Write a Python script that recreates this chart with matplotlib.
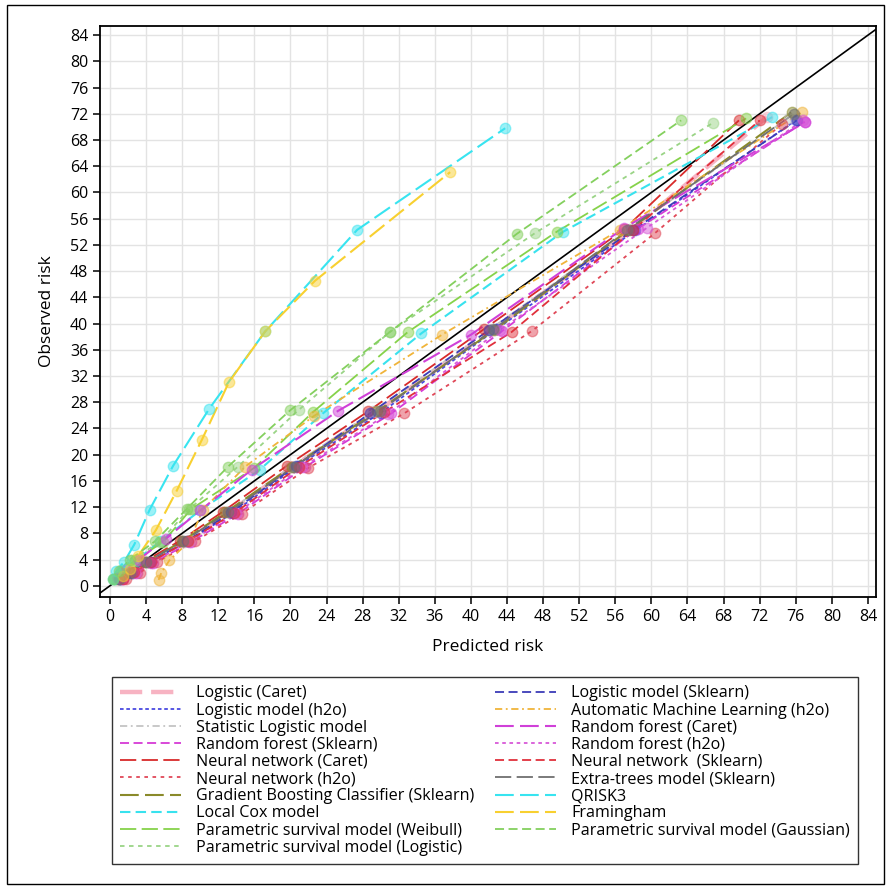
import matplotlib
matplotlib.use("Agg")
import matplotlib.pyplot as plt
from matplotlib.lines import Line2D
from matplotlib.patches import Rectangle

plt.rcParams['font.family'] = ['Open Sans', 'DejaVu Sans']

# Calibration deciles: predicted risk (x) versus observed risk (y), in %
names = [
    "Logistic (Caret)",
    "Logistic model (h2o)",
    "Statistic Logistic model",
    "Random forest (Sklearn)",
    "Neural network (Caret)",
    "Neural network (h2o)",
    "Gradient Boosting Classifier (Sklearn)",
    "Local Cox model",
    "Parametric survival model (Weibull)",
    "Parametric survival model (Logistic)",
    "Logistic model (Sklearn)",
    "Automatic Machine Learning (h2o)",
    "Random forest (Caret)",
    "Random forest (h2o)",
    "Neural network  (Sklearn)",
    "Extra-trees model (Sklearn)",
    "QRISK3",
    "Framingham",
    "Parametric survival model (Gaussian)",
]

logistic_caret_x = [1.2, 2.5, 4.3, 8.3, 13.2, 20.3, 29.5, 42.3, 57.8, 72.8]
logistic_caret_y = [1.0, 2.0, 3.6, 6.8, 11.2, 18.2, 26.5, 39.0, 54.3, 71.5]
logistic_h2o_x = [1.1, 2.6, 4.5, 8.6, 13.6, 20.8, 30.0, 42.8, 58.2, 76.0]
logistic_h2o_y = [1.0, 2.1, 3.7, 6.8, 11.1, 18.3, 26.4, 39.1, 54.2, 71.0]
stat_logistic_x = [1.0, 2.4, 4.2, 8.2, 13.0, 20.0, 29.2, 42.0, 57.6, 75.2]
stat_logistic_y = [1.0, 2.0, 3.6, 6.7, 11.2, 18.1, 26.6, 39.0, 54.4, 71.4]
rf_sklearn_x = [1.5, 3.0, 4.8, 9.0, 14.2, 21.6, 31.2, 43.5, 58.5, 77.0]
rf_sklearn_y = [1.0, 2.0, 3.5, 6.7, 11.0, 18.1, 26.3, 38.9, 54.5, 70.8]
nn_caret_x = [0.8, 2.0, 3.8, 7.8, 12.5, 19.6, 28.6, 41.5, 57.0, 69.7]
nn_caret_y = [1.0, 2.0, 3.7, 6.9, 11.3, 18.3, 26.6, 39.2, 54.4, 71.0]
nn_h2o_x = [1.8, 3.3, 5.2, 9.4, 14.6, 22.0, 32.6, 46.8, 60.4, 74.5]
nn_h2o_y = [1.0, 2.0, 3.6, 6.8, 11.0, 18.0, 26.3, 38.9, 53.8, 70.5]
gbc_x = [1.0, 2.3, 4.0, 8.0, 12.8, 20.2, 29.6, 42.6, 57.5, 75.6]
gbc_y = [1.0, 2.1, 3.6, 6.8, 11.2, 18.2, 26.6, 39.0, 54.3, 72.3]
local_cox_x = [0.6, 1.5, 2.8, 5.6, 10.0, 16.6, 23.6, 34.5, 50.2, 73.4]
local_cox_y = [1.0, 2.2, 3.8, 6.8, 11.5, 17.7, 26.3, 38.5, 54.0, 71.5]
weibull_x = [0.5, 1.4, 2.8, 5.9, 9.0, 16.0, 22.5, 33.0, 49.5, 70.5]
weibull_y = [1.0, 2.3, 3.9, 6.7, 11.7, 18.0, 26.5, 38.7, 54.0, 71.3]
param_logistic_x = [0.4, 1.2, 2.5, 5.5, 8.8, 14.2, 20.9, 31.0, 47.1, 66.8]
param_logistic_y = [1.1, 2.4, 4.0, 6.7, 11.7, 18.2, 26.8, 38.7, 53.8, 70.6]
logistic_sklearn_x = [1.1, 2.5, 4.4, 8.5, 13.4, 20.6, 28.8, 42.0, 58.0, 76.1]
logistic_sklearn_y = [1.0, 2.0, 3.6, 6.8, 11.2, 18.3, 26.3, 39.0, 54.3, 71.0]
automl_x = [5.4, 5.7, 6.6, 8.8, 10.3, 15.0, 22.6, 36.8, 56.5, 76.7]
automl_y = [0.9, 2.0, 3.9, 6.8, 11.6, 18.2, 25.9, 38.3, 54.3, 72.3]
rf_caret_x = [0.9, 1.8, 3.2, 6.2, 10.0, 15.7, 25.3, 40.0, 57.0, 77.0]
rf_caret_y = [1.2, 2.4, 4.0, 7.2, 11.5, 17.7, 26.7, 38.3, 54.6, 70.7]
rf_h2o_x = [1.3, 2.8, 4.6, 8.8, 14.0, 21.3, 30.8, 43.2, 59.5, 76.8]
rf_h2o_y = [1.0, 2.0, 3.5, 6.7, 11.1, 18.1, 26.2, 39.0, 54.6, 71.0]
nn_sklearn_x = [1.4, 2.7, 4.6, 8.6, 13.8, 21.0, 30.4, 44.5, 58.0, 72.0]
nn_sklearn_y = [1.0, 2.1, 3.7, 6.8, 11.1, 18.2, 26.5, 38.7, 54.3, 71.0]
extra_trees_x = [1.0, 2.2, 4.0, 8.1, 13.1, 20.4, 29.9, 42.5, 57.3, 75.8]
extra_trees_y = [1.0, 2.0, 3.6, 6.8, 11.2, 18.2, 26.7, 39.1, 54.3, 72.0]
qrisk3_x = [0.3, 0.7, 1.6, 2.7, 4.4, 7.0, 11.0, 17.2, 27.4, 43.8]
qrisk3_y = [1.0, 2.2, 3.7, 6.3, 11.6, 18.3, 27.0, 38.8, 54.3, 69.8]
framingham_x = [1.5, 2.2, 3.1, 5.1, 7.4, 10.2, 13.2, 17.2, 22.7, 37.7]
framingham_y = [1.5, 2.5, 4.5, 8.5, 14.5, 22.3, 31.1, 38.8, 46.5, 63.1]
gaussian_x = [0.3, 1.0, 2.2, 5.0, 8.5, 13.1, 20.0, 31.0, 45.1, 63.3]
gaussian_y = [1.0, 2.3, 4.0, 6.8, 11.7, 18.2, 26.8, 38.7, 53.7, 71.0]

xs = [logistic_caret_x, logistic_h2o_x, stat_logistic_x, rf_sklearn_x, nn_caret_x,
      nn_h2o_x, gbc_x, local_cox_x, weibull_x, param_logistic_x, logistic_sklearn_x,
      automl_x, rf_caret_x, rf_h2o_x, nn_sklearn_x, extra_trees_x, qrisk3_x,
      framingham_x, gaussian_x]
ys = [logistic_caret_y, logistic_h2o_y, stat_logistic_y, rf_sklearn_y, nn_caret_y,
      nn_h2o_y, gbc_y, local_cox_y, weibull_y, param_logistic_y, logistic_sklearn_y,
      automl_y, rf_caret_y, rf_h2o_y, nn_sklearn_y, extra_trees_y, qrisk3_y,
      framingham_y, gaussian_y]

ticks = list(range(0, 85, 4))

colors = ["#f7b3c2", "#4a4ae0", "#c4c4c4", "#d63ad6", "#d82a2a", "#e04858",
          "#8a8a2a", "#38e2ee", "#86d24a", "#9ad486", "#3c3cb8", "#f0b43a",
          "#d040d8", "#d858d8", "#e0303c", "#707070", "#38e4f0", "#f8d030",
          "#84d05e"]
styles = [(0, (5, 2)), (0, (2, 1.5)), (0, (4, 2, 1, 2)), (0, (5, 2.5)), (0, (9, 3)),
          (0, (2, 2.5)), (0, (9, 3)), (0, (5, 2.5)), (0, (9, 3)), (0, (2.5, 2.5)),
          (0, (5, 2.5)), (0, (4, 2, 1, 2)), (0, (9, 3)), (0, (2, 2)), (0, (5, 2.5)),
          (0, (9, 3)), (0, (9, 3)), (0, (9, 3)), (0, (5, 2.5))]
widths = [3.2, 1.3, 1.3, 1.3, 1.3, 1.3, 1.5, 1.5, 1.3, 1.3, 1.3, 1.3, 1.5, 1.3, 1.3,
          1.3, 1.5, 1.5, 1.3]

fig = plt.figure(figsize=(8.88, 8.89), dpi=100)
fig.patches.append(Rectangle((0.008, 0.006), 0.988, 0.988, transform=fig.transFigure,
                             fill=False, edgecolor="black", linewidth=1.0))

ax = fig.add_axes([0.1126, 0.3285, 0.874, 0.6423])
ax.set_xlim(-1.1, 84.9)
ax.set_ylim(-1.7, 85.4)
ax.set_xticks(ticks)
ax.set_yticks(ticks)
ax.grid(True, color="#e3e3e3", linewidth=1.0)
ax.set_axisbelow(True)
for s in ax.spines.values():
    s.set_linewidth(1.3)
ax.tick_params(direction="out", length=5, width=1.1, labelsize=11.5, pad=3.5)

ax.axline((0, 0), slope=1, color="black", linewidth=1.2, zorder=1)

handles = []
for x, y, c, ls, lw, nm in zip(xs, ys, colors, styles, widths, names):
    ax.plot(x, y, color=c, linestyle=ls, linewidth=lw, zorder=2)
    ax.plot(x, y, linestyle="none", marker="o", markersize=7.5, color=c,
            alpha=0.5, zorder=3)
    handles.append(Line2D([0], [0], color=c, linestyle=ls, linewidth=lw))

ax.set_xlabel("Predicted risk", fontsize=12.5, labelpad=10)
ax.set_ylabel("Observed risk", fontsize=12.5, labelpad=11)

leg_ax = fig.add_axes([0.126, 0.026, 0.845, 0.212])
leg_ax.axis("off")
leg = leg_ax.legend(handles, names, ncol=2, loc="upper left", frameon=True,
                    fontsize=11.6, handlelength=3.8, handletextpad=0.95,
                    columnspacing=1.25, labelspacing=0.07, borderaxespad=0.0,
                    bbox_to_anchor=(0, 1), fancybox=False, borderpad=0.5)
leg.get_frame().set_edgecolor("black")
leg.get_frame().set_linewidth(1.0)

fig.savefig("out.png", dpi=100)
